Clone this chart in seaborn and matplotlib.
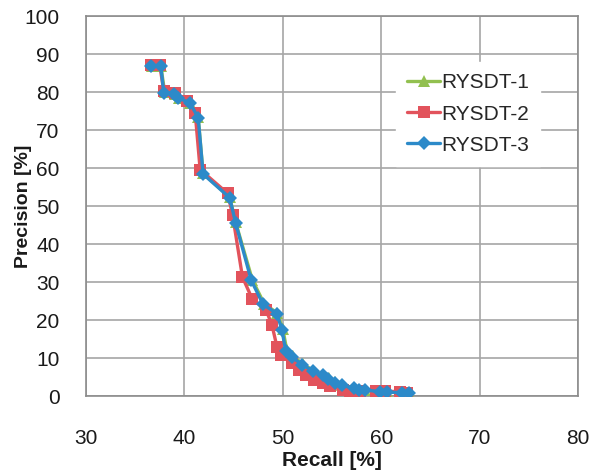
import matplotlib
matplotlib.use("Agg")
import matplotlib.pyplot as plt
import seaborn as sns
import pandas as pd

# ---- data ----
series_names = ["RYSDT-1", "RYSDT-2", "RYSDT-3"]

r1_recall = [36.7, 37.6, 38.0, 39.0, 39.5, 40.6, 41.4, 41.9, 44.6, 45.2, 46.9, 48.1, 49.4, 50.0, 50.4, 51.0, 52.1, 53.1, 54.1, 54.7, 55.3, 56.0, 57.2, 57.7, 58.4, 59.9, 60.6, 62.1, 62.8]
r1_prec = [86.9, 86.9, 79.9, 79.6, 78.5, 77.1, 73.4, 58.6, 52.3, 45.8, 30.6, 24.3, 21.9, 17.7, 12.1, 10.5, 8.3, 6.7, 5.6, 4.7, 3.6, 2.9, 2.0, 1.7, 1.6, 1.1, 1.0, 0.9, 0.7]

r2_recall = [36.6, 37.5, 37.9, 39.0, 40.3, 41.1, 41.6, 44.4, 44.9, 45.9, 46.9, 48.3, 48.9, 49.4, 49.8, 50.9, 51.6, 52.4, 53.2, 54.1, 54.8, 56.1, 56.8, 57.8, 59.5, 60.4, 61.9, 62.6]
r2_prec = [87.0, 87.0, 80.3, 79.8, 77.6, 74.4, 59.6, 53.3, 47.6, 31.3, 25.5, 22.6, 18.7, 13.0, 10.8, 8.6, 6.8, 5.5, 4.2, 3.3, 2.6, 1.6, 1.4, 1.3, 1.4, 1.3, 1.1, 0.9]

r3_recall = [36.6, 37.6, 37.9, 38.9, 39.4, 40.6, 41.4, 41.9, 44.6, 45.2, 46.8, 48.0, 49.4, 49.9, 50.3, 50.9, 52.0, 53.1, 54.1, 54.6, 55.3, 56.0, 57.2, 57.7, 58.4, 59.9, 60.6, 62.1, 62.8]
r3_prec = [86.9, 86.9, 79.8, 79.6, 78.5, 77.0, 73.2, 58.4, 52.2, 45.6, 30.4, 24.1, 21.7, 17.5, 11.9, 10.3, 8.2, 6.6, 5.5, 4.6, 3.5, 2.9, 2.0, 1.7, 1.6, 1.1, 1.0, 0.9, 0.7]

x_ticks = [30, 40, 50, 60, 70, 80]
y_ticks = [0, 10, 20, 30, 40, 50, 60, 70, 80, 90, 100]

recalls = [r1_recall, r2_recall, r3_recall]
precs = [r1_prec, r2_prec, r3_prec]
colors = ["#92C050", "#E2535C", "#2C8AC9"]
markers = ["^", "s", "D"]
msizes = [8, 8, 7]

sns.set_theme(style="white")
plt.rcParams["font.family"] = ["Liberation Sans", "DejaVu Sans"]

fig = plt.figure(figsize=(6.03, 4.75), dpi=100)
ax = fig.add_axes([86 / 603, 79 / 475, 492 / 603, 380 / 475])

for i, name in enumerate(series_names):
    df = pd.DataFrame({"Recall": recalls[i], "Precision": precs[i]})
    sns.lineplot(data=df, x="Recall", y="Precision", ax=ax, sort=False,
                 estimator=None, color=colors[i], marker=markers[i],
                 markersize=msizes[i], markeredgewidth=0, linewidth=2.4,
                 label=name, zorder=3 + i)

ax.set_xlim(30, 80)
ax.set_ylim(0, 100)
ax.set_xticks(x_ticks)
ax.set_yticks(y_ticks)
ax.grid(True, color="#A6A6A6", linewidth=1.2)
ax.set_axisbelow(True)
for s in ax.spines.values():
    s.set_color("#8C8C8C")
    s.set_linewidth(1.2)
ax.tick_params(axis="x", length=0, pad=24, labelsize=15, colors="#1A1A1A")
ax.tick_params(axis="y", length=0, pad=19, labelsize=15, colors="#1A1A1A")

ax.set_xlabel("Recall [%]", fontsize=15, fontweight="bold", color="#1A1A1A")
ax.set_ylabel("Precision [%]", fontsize=14, fontweight="bold", color="#1A1A1A")
ax.xaxis.set_label_coords(0.5, (396 - 460) / 380)
ax.yaxis.set_label_coords((24 - 86) / 492, 0.5)
ax.xaxis.label.set_va("center")
ax.yaxis.label.set_va("center")

leg = ax.legend(loc="upper left", bbox_to_anchor=((396 - 86) / 492, (396 - 62) / 380),
                frameon=True, fancybox=False, framealpha=1, facecolor="white",
                edgecolor="white", fontsize=15, handlelength=1.55,
                handletextpad=0.05, labelspacing=0.58, borderpad=0.55,
                borderaxespad=0)

fig.savefig("out.png", dpi=100, facecolor="white")
